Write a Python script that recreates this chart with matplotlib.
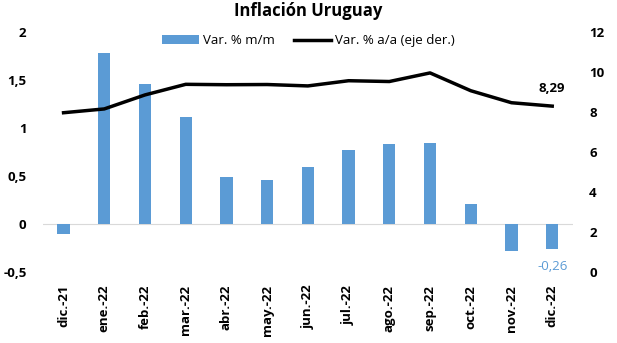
import matplotlib.pyplot as plt
import numpy as np

plt.rcParams['font.family'] = ['Open Sans', 'DejaVu Sans']

meses = ['dic.-21', 'ene.-22', 'feb.-22', 'mar.-22', 'abr.-22', 'may.-22', 'jun.-22',
         'jul.-22', 'ago.-22', 'sep.-22', 'oct.-22', 'nov.-22', 'dic.-22']
var_mensual = [-0.10, 1.78, 1.46, 1.11, 0.49, 0.46, 0.59, 0.77, 0.83, 0.84, 0.21, -0.28, -0.26]
var_anual = [7.96, 8.15, 8.85, 9.38, 9.36, 9.37, 9.30, 9.56, 9.52, 9.95, 9.06, 8.46, 8.29]

x = np.arange(len(meses))

fig = plt.figure(figsize=(6.17, 3.43), dpi=100)
ax = fig.add_axes([0.07, 0.207, 0.858, 0.7])
ax2 = ax.twinx()

barras = ax.bar(x, var_mensual, width=0.3, color='#5B9BD5', label='Var. % m/m', zorder=2)
linea, = ax2.plot(x, var_anual, color='black', linewidth=2.5, label='Var. % a/a (eje der.)')

ax.set_ylim(-0.5, 2)
ax.set_yticks([-0.5, 0, 0.5, 1, 1.5, 2])
ax.set_yticklabels(['-0,5', '0', '0,5', '1', '1,5', '2'])
ax2.set_ylim(0, 12)
ax2.set_yticks([0, 2, 4, 6, 8, 10, 12])
ax.set_xlim(-0.5, len(meses) - 0.5)
ax.axhline(0, color='#d9d9d9', linewidth=0.8, zorder=1)

ax.set_xticks(x)
ax.set_xticklabels(meses, rotation=90)
for lbl in ax.get_xticklabels():
    lbl.set_y(-0.03)

for a in (ax, ax2):
    for s in a.spines.values():
        s.set_visible(False)
    a.tick_params(length=0, labelsize=9.5)
    for lbl in a.get_yticklabels() + a.get_xticklabels():
        lbl.set_fontweight('bold')
ax.tick_params(axis='y', pad=12)
ax2.tick_params(axis='y', pad=12)
ax.tick_params(axis='x', pad=4)

ax2.annotate('8,29', (x[-1], var_anual[-1]), xytext=(0, 8), textcoords='offset points',
             ha='center', va='bottom', fontsize=9.5, fontweight='bold')
ax.annotate('-0,26', (x[-1], var_mensual[-1]), xytext=(0, -8), textcoords='offset points',
            ha='center', va='top', fontsize=9.5, color='#5B9BD5')

fig.legend(handles=[barras, linea], loc='upper center', bbox_to_anchor=(0.5, 0.935), ncol=2,
           frameon=False, fontsize=9.5, handlelength=2.8, columnspacing=1.5,
           handletextpad=0.3)
fig.suptitle('Inflación Uruguay', y=0.995, fontsize=12, fontweight='bold')

fig.savefig('out.png', dpi=100)
